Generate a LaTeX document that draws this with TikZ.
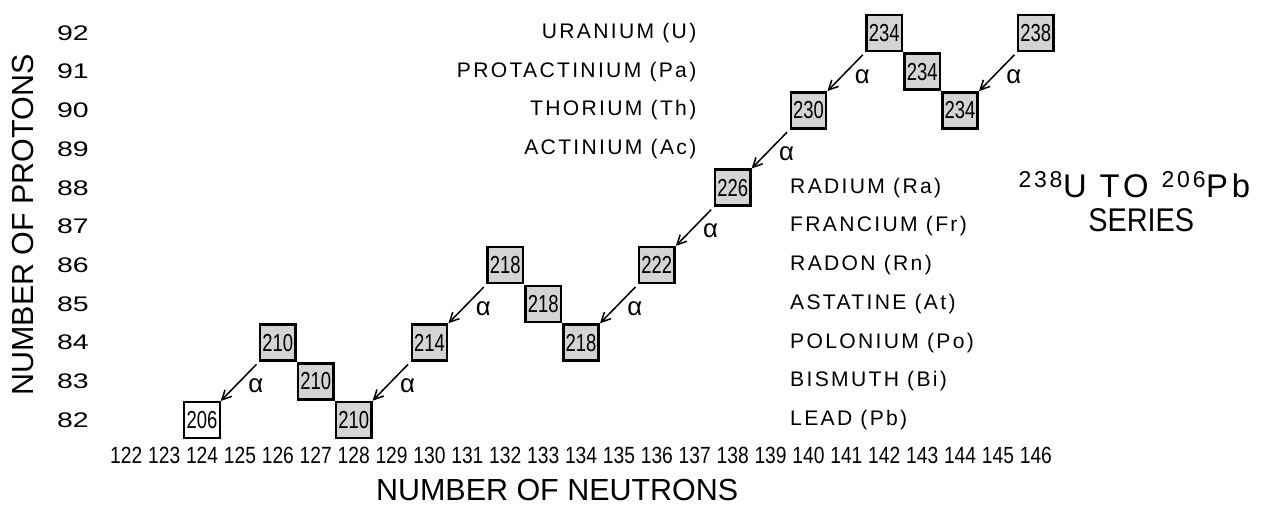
\documentclass[tikz,border=0pt]{standalone}
\usepackage{fontspec}
\setmainfont{Liberation Sans}
\newfontfamily\lblfont[LetterSpace=11]{Liberation Sans}
\newfontfamily\zfont[FakeStretch=1.35]{Liberation Sans}
\newfontfamily\tickfont[FakeStretch=0.82]{Liberation Sans}
\newfontfamily\boxfont[FakeStretch=0.75]{Liberation Sans}
\newfontfamily\ttlfont[LetterSpace=12]{Liberation Sans}
\newfontfamily\serfont[FakeStretch=0.88]{Liberation Sans}
\usetikzlibrary{arrows.meta}
\definecolor{isoGray}{RGB}{212,212,212}

\begin{document}
\begin{tikzpicture}[x=1.137cm, y=1.161cm,
  iso/.style={draw, line width=2.2pt, fill=isoGray, minimum width=1.06cm, minimum height=1.08cm,
    inner sep=0pt, font=\boxfont\fontsize{21}{21}\selectfont},
  stable/.style={iso, fill=white, line width=1.6pt},
  decay/.style={-{Straight Barb[length=8pt,width=8pt]}, line width=1.3pt, shorten <=3pt},
  alab/.style={font=\fontsize{22}{22}\selectfont, shift={(0.42,-0.12)}},
  ztick/.style={anchor=east, font=\zfont\fontsize{18}{18}\selectfont},
  ntick/.style={font=\tickfont\fontsize{20}{20}\selectfont},
  elem/.style={font=\lblfont\fontsize{18}{18}\selectfont},
  axlbl/.style={font=\fontsize{26}{26}\selectfont},
  ttl/.style={anchor=base, font=\ttlfont\fontsize{28}{28}\selectfont},
  ser/.style={anchor=base, font=\serfont\fontsize{28}{28}\selectfont}]
% x: neutrons N, y: protons Z
\useasboundingbox (118.67,79.468) rectangle (152.074,92.853);
% axes
\foreach \z in {82,...,92}
  \node[ztick] (z\z) at (121.12,\z) {\z};
\foreach \n in {122,...,146}
  \node[ntick] (n\n) at (\n,81.08) {\n};
\node[axlbl, rotate=90] (ylab) at (119.28,87.04) {NUMBER OF PROTONS};
\node[axlbl] (xlab) at (133.37,80.19) {NUMBER OF NEUTRONS};
% element names
\foreach \z/\t in {92/URANIUM (U), 91/PROTACTINIUM (Pa), 90/THORIUM (Th), 89/ACTINIUM (Ac)}
  \node[elem, anchor=east] (el\z) at (137.15,\z) {\t};
\foreach \z/\t in {88/RADIUM (Ra), 87/FRANCIUM (Fr), 86/RADON (Rn), 85/ASTATINE (At),
    84/POLONIUM (Po), 83/BISMUTH (Bi), 82/LEAD (Pb)}
  \node[elem, anchor=west] (el\z) at (139.41,\z) {\t};
% nuclides
\node[iso] (u238) at (146,92) {238};
\node[iso] (th234) at (144,90) {234};
\node[iso] (pa234) at (143,91) {234};
\node[iso] (u234) at (142,92) {234};
\node[iso] (th230) at (140,90) {230};
\node[iso] (ra226) at (138,88) {226};
\node[iso] (rn222) at (136,86) {222};
\node[iso] (po218) at (134,84) {218};
\node[iso] (at218) at (133,85) {218};
\node[iso] (rn218) at (132,86) {218};
\node[iso] (po214) at (130,84) {214};
\node[iso] (pb210) at (128,82) {210};
\node[iso] (bi210) at (127,83) {210};
\node[iso] (po210) at (126,84) {210};
\node[stable] (pb206) at (124,82) {206};
% alpha decays
\foreach \a/\b in {u238/th234, u234/th230, th230/ra226, ra226/rn222, rn222/po218,
    rn218/po214, po214/pb210, po210/pb206}
  \draw[decay] (\a.south west) -- (\b.north east) node[midway, alab] {α};
% title
\node[ttl] (ttl1) at (148.6,87.736) {\textsuperscript{238}U TO \textsuperscript{206}Pb};
\node[ser] (ttl2) at (148.78,86.858) {SERIES};
\end{tikzpicture}
\end{document}
